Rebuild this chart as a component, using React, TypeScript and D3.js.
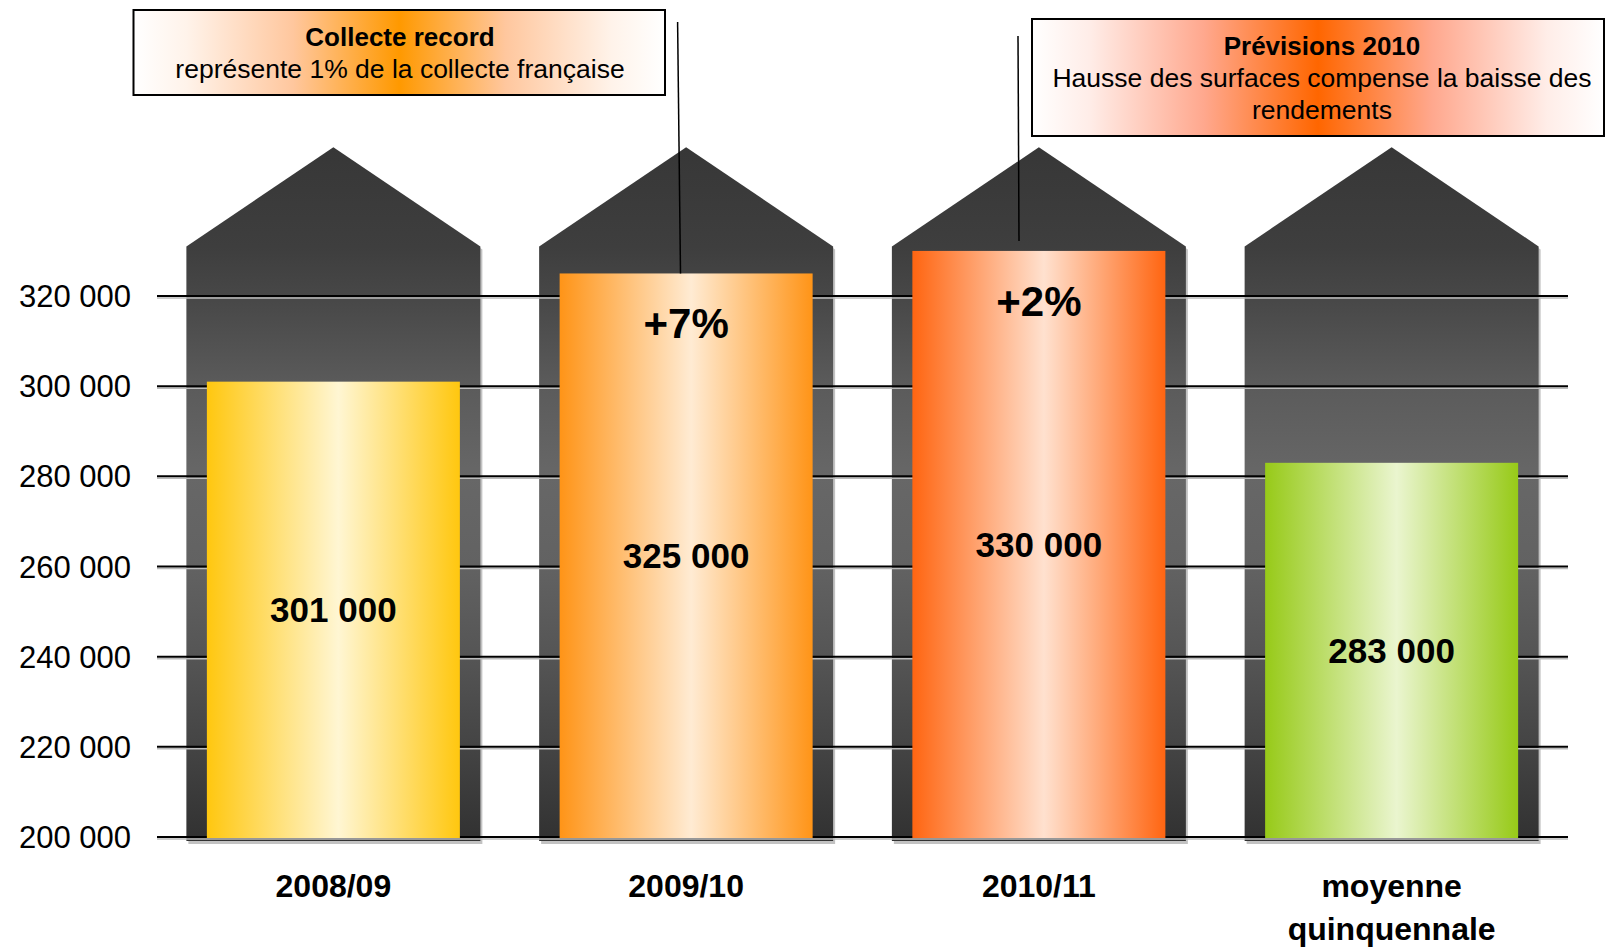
import React from "react";
import * as d3 from "d3";

// silo chart: collecte 2008-2011

const W = 1605;
const H = 947;

const categories = ["2008/09", "2009/10", "2010/11", "moyenne quinquennale"];
const values = [301000, 325000, 330000, 283000];
const changes = ["", "+7%", "+2%", ""];
const yTicks = [200000, 220000, 240000, 260000, 280000, 300000, 320000];

// bar gradient: [edge, centre]
const barColors = [
  ["#FFC70F", "#FFF6D3"],
  ["#FF9417", "#FFEBD3"],
  ["#FF6511", "#FFE1CF"],
  ["#97CA18", "#EAF5CF"],
];

const noteTitles = ["Collecte record", "Prévisions 2010"];
const noteLines = [
  ["représente 1% de la collecte française"],
  ["Hausse des surfaces compense la baisse des", "rendements"],
];
// [centre, shoulder, light]
const noteColors = [
  ["#FF9900", "#FFC79E", "#FFF3EA"],
  ["#FF6600", "#FFA88E", "#FFEDE8"],
];

// silo shape in data units
const siloShoulder = 331000;
const siloPeak = 353000;

const fr = d3.formatLocale({ decimal: ",", thousands: " ", grouping: [3], currency: ["", " €"] });
const fmt = fr.format(",d");

const font = "'Liberation Sans', Arial, sans-serif";

export default function App() {
  const x = d3.scaleBand().domain(categories).range([157, 1568]);
  const y = d3.scaleLinear().domain([200000, 320000]).range([837, 296]);

  const siloHalf = 147;
  const barHalf = 126.5;
  const siloBottom = y(200000) + 4;

  const siloPath = (c: string) => {
    const cx = x(c)! + x.bandwidth() / 2;
    const p = d3.path();
    p.moveTo(cx - siloHalf, siloBottom);
    p.lineTo(cx - siloHalf, y(siloShoulder));
    p.lineTo(cx, y(siloPeak));
    p.lineTo(cx + siloHalf, y(siloShoulder));
    p.lineTo(cx + siloHalf, siloBottom);
    p.closePath();
    return p.toString();
  };

  const siloStops: [number, string][] = [
    [147, "#373737"], [247, "#3e3e3e"], [296, "#474747"], [386, "#5b5b5b"],
    [476, "#676767"], [566, "#626262"], [656, "#555555"], [747, "#444444"], [842, "#313131"],
  ];

  // note boxes (layout)
  const boxes = [
    { x: 133.5, y: 10, w: 531.5, h: 85, cx: 400, base: 46, lead: [677.6, 22, 680.5, y(values[1])] },
    { x: 1032, y: 19, w: 572, h: 117, cx: 1322, base: 55, lead: [1018, 36, 1019, y(values[2]) - 10] },
  ];

  return (
    <svg width={W} height={H} style={{ position: "absolute", left: 0, top: 0, background: "#fff" }} fontFamily={font}>
      <defs>
        <linearGradient id="silo" gradientUnits="userSpaceOnUse" x1="0" x2="0" y1={147} y2={842}>
          {siloStops.map(([yy, c], i) => (
            <stop key={i} offset={(yy - 147) / 695} stopColor={c} />
          ))}
        </linearGradient>
        {barColors.map((bc, i) => (
          <linearGradient key={i} id={`bar${i}`} x1="0" x2="1" y1="0" y2="0">
            <stop offset="0" stopColor={bc[0]} />
            <stop offset="0.52" stopColor={bc[1]} />
            <stop offset="1" stopColor={bc[0]} />
          </linearGradient>
        ))}
        {noteColors.map((c, i) => (
          <linearGradient key={i} id={`note${i}`} x1="0" x2="1" y1="0" y2="0">
            <stop offset="0" stopColor="#ffffff" />
            <stop offset="0.1" stopColor={c[2]} />
            <stop offset="0.3" stopColor={c[1]} />
            <stop offset="0.5" stopColor={c[0]} />
            <stop offset="0.7" stopColor={c[1]} />
            <stop offset="0.9" stopColor={c[2]} />
            <stop offset="1" stopColor="#ffffff" />
          </linearGradient>
        ))}
      </defs>

      {/* silos */}
      {categories.map((c) => (
        <path key={"sh" + c} d={siloPath(c)} transform="translate(2,3)" fill="#9a9a9a" opacity={0.6} />
      ))}
      {categories.map((c) => (
        <path key={"s" + c} d={siloPath(c)} fill="url(#silo)" />
      ))}

      {/* grid */}
      {yTicks.map((t) => (
        <g key={t}>
          <line x1={157} x2={1568} y1={y(t) + 2} y2={y(t) + 2} stroke="#bbb" strokeWidth={1.5} />
          <line x1={157} x2={1568} y1={y(t)} y2={y(t)} stroke="#000" strokeWidth={2} />
          <text x={131} y={y(t)} dy="0.36em" textAnchor="end" fontSize={31} fill="#000">
            {fmt(t)}
          </text>
        </g>
      ))}

      {/* bars */}
      {categories.map((c, i) => {
        const cx = x(c)! + x.bandwidth() / 2;
        const top = y(values[i]);
        const bottom = y(200000) + 1;
        const lines = c.includes("/") ? [c] : c.split(" ");
        return (
          <g key={"b" + c}>
            <rect x={cx - barHalf} y={top} width={barHalf * 2} height={bottom - top} fill={`url(#bar${i})`} />
            <text x={cx} y={(top + bottom) / 2} dy="0.36em" textAnchor="middle" fontSize={35} fontWeight="bold">
              {fmt(values[i])}
            </text>
            {changes[i] && (
              <text x={cx} y={top + 65} textAnchor="middle" fontSize={42} fontWeight="bold">
                {changes[i]}
              </text>
            )}
            {lines.map((w, j) => (
              <text key={j} x={cx} y={897 + j * 43} textAnchor="middle" fontSize={32} fontWeight="bold">
                {w}
              </text>
            ))}
          </g>
        );
      })}

      {/* notes */}
      {boxes.map((b, i) => (
        <g key={"n" + i}>
          <line x1={b.lead[0]} y1={b.lead[1]} x2={b.lead[2]} y2={b.lead[3]} stroke="#000" strokeWidth={1.5} />
          <rect x={b.x} y={b.y} width={b.w} height={b.h} fill={`url(#note${i})`} stroke="#000" strokeWidth={2} />
          <text x={b.cx} y={b.base} textAnchor="middle" fontSize={26} fontWeight="bold">
            {noteTitles[i]}
          </text>
          {noteLines[i].map((l, j) => (
            <text key={j} x={b.cx} y={b.base + 32 * (j + 1)} textAnchor="middle" fontSize={26.5}>
              {l}
            </text>
          ))}
        </g>
      ))}
    </svg>
  );
}
